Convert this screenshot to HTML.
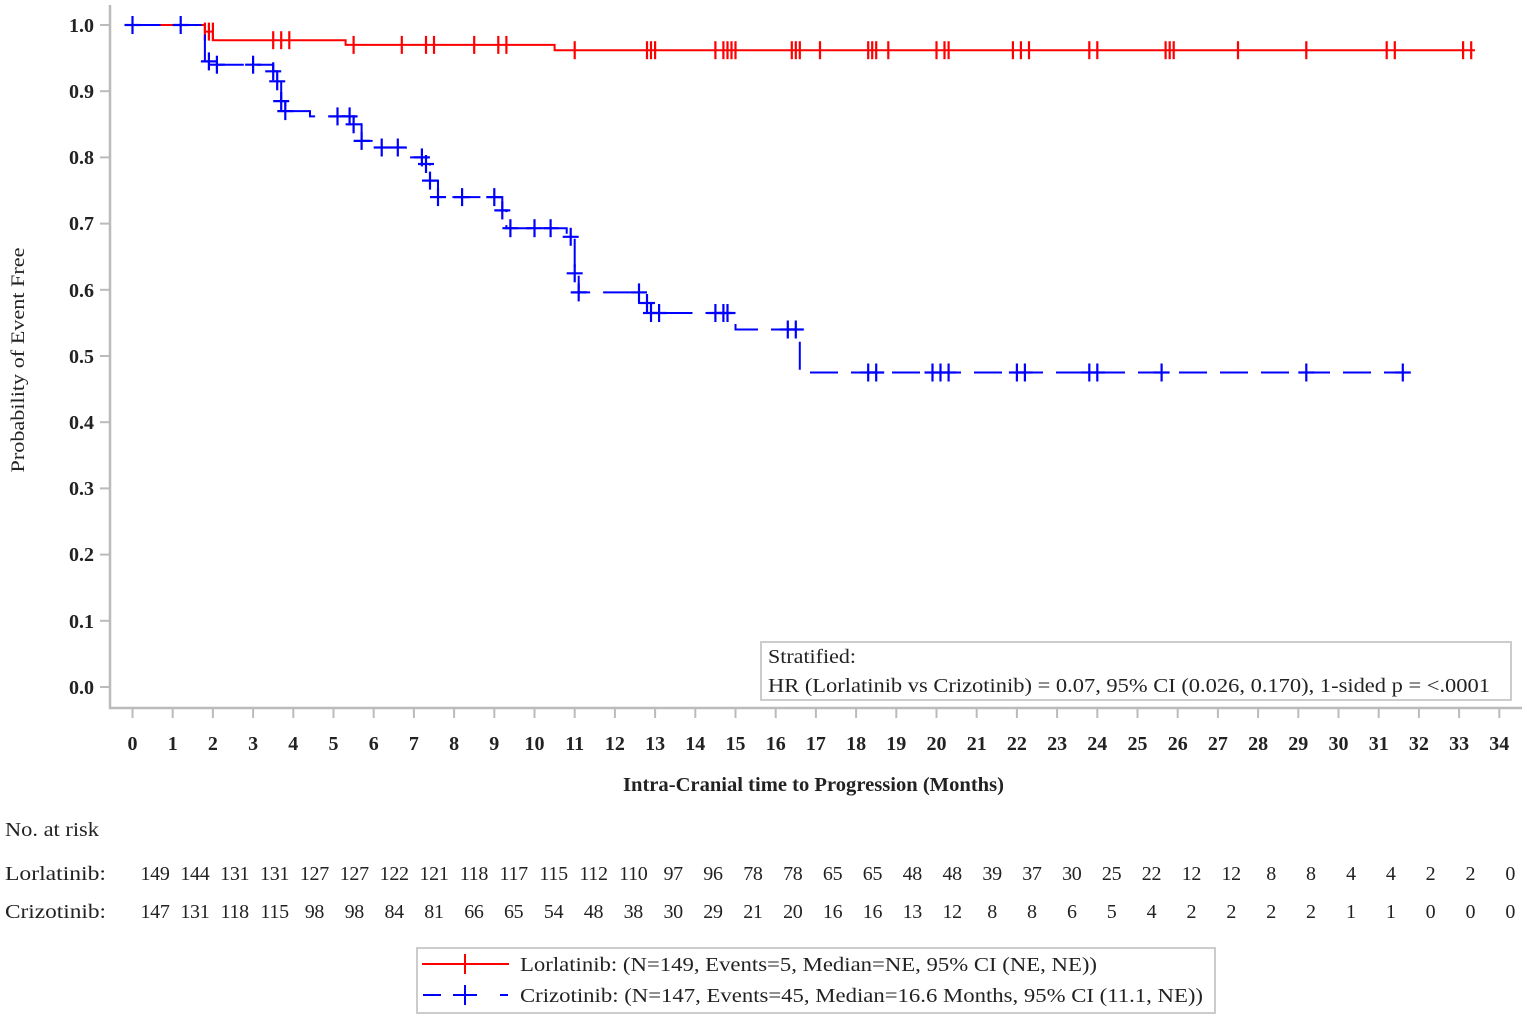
<!DOCTYPE html>
<html><head><meta charset="utf-8"><style>
html,body{margin:0;padding:0;background:#fff;}
svg{display:block;font-family:"Liberation Serif",serif;}
</style></head><body>
<svg width="1530" height="1019" viewBox="0 0 1530 1019" xmlns="http://www.w3.org/2000/svg">
<defs>
<g id="bp"><line x1="-8" y1="0" x2="8" y2="0" stroke="#0000ff" stroke-width="2.2"/><line x1="0" y1="-9" x2="0" y2="9" stroke="#0000ff" stroke-width="2.2"/></g>
<g id="rp"><line x1="0" y1="-9" x2="0" y2="9" stroke="#ff0000" stroke-width="2.2"/></g>
</defs>
<g stroke="#bbb" stroke-width="2.5" fill="none">
<line x1="110" y1="5" x2="110" y2="709"/>
<line x1="109" y1="708" x2="1522" y2="708"/>
</g>
<g stroke="#bbb" stroke-width="2">
<line x1="100" y1="25" x2="110" y2="25"/><line x1="100" y1="91.2" x2="110" y2="91.2"/><line x1="100" y1="157.4" x2="110" y2="157.4"/><line x1="100" y1="223.6" x2="110" y2="223.6"/><line x1="100" y1="289.8" x2="110" y2="289.8"/><line x1="100" y1="356" x2="110" y2="356"/><line x1="100" y1="422.2" x2="110" y2="422.2"/><line x1="100" y1="488.4" x2="110" y2="488.4"/><line x1="100" y1="554.6" x2="110" y2="554.6"/><line x1="100" y1="620.8" x2="110" y2="620.8"/><line x1="100" y1="687" x2="110" y2="687"/>
</g>
<g font-size="20" font-weight="bold" text-anchor="end" fill="#222">
<text x="94" y="32">1.0</text><text x="94" y="98">0.9</text><text x="94" y="164">0.8</text><text x="94" y="230">0.7</text><text x="94" y="297">0.6</text><text x="94" y="363">0.5</text><text x="94" y="429">0.4</text><text x="94" y="495">0.3</text><text x="94" y="561">0.2</text><text x="94" y="628">0.1</text><text x="94" y="694">0.0</text>
</g>
<text transform="translate(24,360) rotate(-90)" font-size="19" text-anchor="middle" fill="#222" textLength="225" lengthAdjust="spacingAndGlyphs">Probability of Event Free</text>
<g stroke="#bbb" stroke-width="2">
<line x1="132.5" y1="708" x2="132.5" y2="718"/><line x1="172.7" y1="708" x2="172.7" y2="718"/><line x1="212.9" y1="708" x2="212.9" y2="718"/><line x1="253.1" y1="708" x2="253.1" y2="718"/><line x1="293.3" y1="708" x2="293.3" y2="718"/><line x1="333.5" y1="708" x2="333.5" y2="718"/><line x1="373.7" y1="708" x2="373.7" y2="718"/><line x1="413.9" y1="708" x2="413.9" y2="718"/><line x1="454.1" y1="708" x2="454.1" y2="718"/><line x1="494.3" y1="708" x2="494.3" y2="718"/><line x1="534.5" y1="708" x2="534.5" y2="718"/><line x1="574.7" y1="708" x2="574.7" y2="718"/><line x1="614.9" y1="708" x2="614.9" y2="718"/><line x1="655.1" y1="708" x2="655.1" y2="718"/><line x1="695.3" y1="708" x2="695.3" y2="718"/><line x1="735.5" y1="708" x2="735.5" y2="718"/><line x1="775.7" y1="708" x2="775.7" y2="718"/><line x1="815.9" y1="708" x2="815.9" y2="718"/><line x1="856.1" y1="708" x2="856.1" y2="718"/><line x1="896.3" y1="708" x2="896.3" y2="718"/><line x1="936.5" y1="708" x2="936.5" y2="718"/><line x1="976.7" y1="708" x2="976.7" y2="718"/><line x1="1016.9" y1="708" x2="1016.9" y2="718"/><line x1="1057.1" y1="708" x2="1057.1" y2="718"/><line x1="1097.3" y1="708" x2="1097.3" y2="718"/><line x1="1137.5" y1="708" x2="1137.5" y2="718"/><line x1="1177.7" y1="708" x2="1177.7" y2="718"/><line x1="1217.9" y1="708" x2="1217.9" y2="718"/><line x1="1258.1" y1="708" x2="1258.1" y2="718"/><line x1="1298.3" y1="708" x2="1298.3" y2="718"/><line x1="1338.5" y1="708" x2="1338.5" y2="718"/><line x1="1378.7" y1="708" x2="1378.7" y2="718"/><line x1="1418.9" y1="708" x2="1418.9" y2="718"/><line x1="1459.1" y1="708" x2="1459.1" y2="718"/><line x1="1499.3" y1="708" x2="1499.3" y2="718"/>
</g>
<g font-size="20" font-weight="bold" text-anchor="middle" fill="#222">
<text x="132.5" y="750">0</text><text x="172.7" y="750">1</text><text x="212.9" y="750">2</text><text x="253.1" y="750">3</text><text x="293.3" y="750">4</text><text x="333.5" y="750">5</text><text x="373.7" y="750">6</text><text x="413.9" y="750">7</text><text x="454.1" y="750">8</text><text x="494.3" y="750">9</text><text x="534.5" y="750">10</text><text x="574.7" y="750">11</text><text x="614.9" y="750">12</text><text x="655.1" y="750">13</text><text x="695.3" y="750">14</text><text x="735.5" y="750">15</text><text x="775.7" y="750">16</text><text x="815.9" y="750">17</text><text x="856.1" y="750">18</text><text x="896.3" y="750">19</text><text x="936.5" y="750">20</text><text x="976.7" y="750">21</text><text x="1016.9" y="750">22</text><text x="1057.1" y="750">23</text><text x="1097.3" y="750">24</text><text x="1137.5" y="750">25</text><text x="1177.7" y="750">26</text><text x="1217.9" y="750">27</text><text x="1258.1" y="750">28</text><text x="1298.3" y="750">29</text><text x="1338.5" y="750">30</text><text x="1378.7" y="750">31</text><text x="1418.9" y="750">32</text><text x="1459.1" y="750">33</text><text x="1499.3" y="750">34</text>
</g>
<text x="623" y="791" font-size="20" font-weight="bold" fill="#222" textLength="381" lengthAdjust="spacingAndGlyphs">Intra-Cranial time to Progression (Months)</text>

<path d="M132.5,25 H204.9 V31.6 H212.9 V40.2 H345.6 V44.9 H554.6 V50.2 H1475" fill="none" stroke="#ff0000" stroke-width="2"/>
<g>
<use href="#rp" x="204.9" y="31.6"/><use href="#rp" x="208.9" y="31.6"/><use href="#rp" x="212.9" y="31.6"/>
<use href="#rp" x="273.2" y="40.2"/><use href="#rp" x="281.2" y="40.2"/><use href="#rp" x="289.3" y="40.2"/>
<use href="#rp" x="353.6" y="44.9"/><use href="#rp" x="401.8" y="44.9"/><use href="#rp" x="426" y="44.9"/><use href="#rp" x="434" y="44.9"/><use href="#rp" x="474.2" y="44.9"/><use href="#rp" x="498.3" y="44.9"/><use href="#rp" x="506.4" y="44.9"/>
<use href="#rp" x="574.7" y="50.2"/><use href="#rp" x="647" y="50.2"/><use href="#rp" x="651" y="50.2"/><use href="#rp" x="655.1" y="50.2"/><use href="#rp" x="715.4" y="50.2"/><use href="#rp" x="723.4" y="50.2"/><use href="#rp" x="727.5" y="50.2"/><use href="#rp" x="731.5" y="50.2"/><use href="#rp" x="735.5" y="50.2"/><use href="#rp" x="791.8" y="50.2"/><use href="#rp" x="795.8" y="50.2"/><use href="#rp" x="799.8" y="50.2"/><use href="#rp" x="820" y="50.2"/><use href="#rp" x="868.2" y="50.2"/><use href="#rp" x="872.2" y="50.2"/><use href="#rp" x="876.2" y="50.2"/><use href="#rp" x="888.3" y="50.2"/><use href="#rp" x="936.5" y="50.2"/><use href="#rp" x="944.5" y="50.2"/><use href="#rp" x="948.6" y="50.2"/><use href="#rp" x="1012.9" y="50.2"/><use href="#rp" x="1020.9" y="50.2"/><use href="#rp" x="1029" y="50.2"/><use href="#rp" x="1089.3" y="50.2"/><use href="#rp" x="1097.3" y="50.2"/><use href="#rp" x="1165.6" y="50.2"/><use href="#rp" x="1169.7" y="50.2"/><use href="#rp" x="1173.7" y="50.2"/><use href="#rp" x="1238" y="50.2"/><use href="#rp" x="1306.3" y="50.2"/><use href="#rp" x="1386.7" y="50.2"/><use href="#rp" x="1394.8" y="50.2"/><use href="#rp" x="1463.1" y="50.2"/><use href="#rp" x="1471.2" y="50.2"/>
</g>

<path d="M132.5,25 H204.9 V61.4 H212.9 V64.7 H273.2 V71.3 H277.2 V81.3 H281.2 V101.1 H285.3 V111.1 H310 V116.4 H353.6 V124.3 H361.6 V140.9 H375 V147.5 H405.9 V157.4 H426 V164 H430 V180.6 H438 V197.1 H502.3 V210.4 H506.4 V228.2 H566.7 V236.8 H574.7 V273.3 H578.7 V292.4 H639 V303 H647 V313 H735.5 V329.5 H799.8 V372.5 H1402.8" fill="none" stroke="#0000ff" stroke-width="2" stroke-dasharray="28,13"/>
<g>
<use href="#bp" x="132.5" y="25"/><use href="#bp" x="180.7" y="25"/><use href="#bp" x="208.9" y="61.4"/><use href="#bp" x="216.9" y="64.7"/><use href="#bp" x="253.1" y="64.7"/><use href="#bp" x="273.2" y="71.3"/><use href="#bp" x="277.2" y="81.3"/><use href="#bp" x="281.2" y="101.1"/><use href="#bp" x="285.3" y="111.1"/><use href="#bp" x="337.5" y="116.4"/><use href="#bp" x="349.6" y="116.4"/><use href="#bp" x="353.6" y="124.3"/><use href="#bp" x="361.6" y="140.9"/><use href="#bp" x="381.7" y="147.5"/><use href="#bp" x="397.8" y="147.5"/><use href="#bp" x="421.9" y="157.4"/><use href="#bp" x="426" y="164"/><use href="#bp" x="430" y="180.6"/><use href="#bp" x="438" y="197.1"/><use href="#bp" x="462.1" y="197.1"/><use href="#bp" x="494.3" y="197.1"/><use href="#bp" x="502.3" y="210.4"/><use href="#bp" x="510.4" y="228.2"/><use href="#bp" x="534.5" y="228.2"/><use href="#bp" x="550.6" y="228.2"/><use href="#bp" x="570.7" y="236.8"/><use href="#bp" x="574.7" y="273.3"/><use href="#bp" x="578.7" y="292.4"/><use href="#bp" x="639" y="292.4"/><use href="#bp" x="647" y="303"/><use href="#bp" x="651" y="313"/><use href="#bp" x="659.1" y="313"/><use href="#bp" x="715.4" y="313"/><use href="#bp" x="723.4" y="313"/><use href="#bp" x="727.5" y="313"/><use href="#bp" x="787.8" y="329.5"/><use href="#bp" x="795.8" y="329.5"/><use href="#bp" x="868.2" y="372.5"/><use href="#bp" x="876.2" y="372.5"/><use href="#bp" x="932.5" y="372.5"/><use href="#bp" x="940.5" y="372.5"/><use href="#bp" x="948.6" y="372.5"/><use href="#bp" x="1016.9" y="372.5"/><use href="#bp" x="1024.9" y="372.5"/><use href="#bp" x="1089.3" y="372.5"/><use href="#bp" x="1097.3" y="372.5"/><use href="#bp" x="1161.6" y="372.5"/><use href="#bp" x="1306.3" y="372.5"/><use href="#bp" x="1402.8" y="372.5"/>
</g>

<rect x="761" y="642" width="750" height="58" fill="#fff" stroke="#ccc" stroke-width="2"/>
<g font-size="20" fill="#222">
<text x="768" y="663" textLength="88" lengthAdjust="spacingAndGlyphs">Stratified:</text>
<text x="768" y="692" textLength="722" lengthAdjust="spacingAndGlyphs">HR (Lorlatinib vs Crizotinib) = 0.07, 95% CI (0.026, 0.170), 1-sided p = &lt;.0001</text>
</g>

<g font-size="20" fill="#222">
<text x="5" y="836" textLength="94" lengthAdjust="spacingAndGlyphs">No. at risk</text>
<text x="5" y="880" textLength="101" lengthAdjust="spacingAndGlyphs">Lorlatinib:</text>
<text x="5" y="918" textLength="101" lengthAdjust="spacingAndGlyphs">Crizotinib:</text>
</g>
<g font-size="20" fill="#222" text-anchor="middle" letter-spacing="-0.3">
<text y="880"><tspan x="155">149</tspan><tspan x="194.9">144</tspan><tspan x="234.7">131</tspan><tspan x="274.6">131</tspan><tspan x="314.4">127</tspan><tspan x="354.3">127</tspan><tspan x="394.2">122</tspan><tspan x="434">121</tspan><tspan x="473.9">118</tspan><tspan x="513.7">117</tspan><tspan x="553.6">115</tspan><tspan x="593.5">112</tspan><tspan x="633.3">110</tspan><tspan x="673.2">97</tspan><tspan x="713">96</tspan><tspan x="752.9">78</tspan><tspan x="792.8">78</tspan><tspan x="832.6">65</tspan><tspan x="872.5">65</tspan><tspan x="912.3">48</tspan><tspan x="952.2">48</tspan><tspan x="992.1">39</tspan><tspan x="1031.9">37</tspan><tspan x="1071.8">30</tspan><tspan x="1111.6">25</tspan><tspan x="1151.5">22</tspan><tspan x="1191.4">12</tspan><tspan x="1231.2">12</tspan><tspan x="1271.1">8</tspan><tspan x="1310.9">8</tspan><tspan x="1350.8">4</tspan><tspan x="1390.7">4</tspan><tspan x="1430.5">2</tspan><tspan x="1470.4">2</tspan><tspan x="1510.2">0</tspan></text>
<text y="918"><tspan x="155">147</tspan><tspan x="194.9">131</tspan><tspan x="234.7">118</tspan><tspan x="274.6">115</tspan><tspan x="314.4">98</tspan><tspan x="354.3">98</tspan><tspan x="394.2">84</tspan><tspan x="434">81</tspan><tspan x="473.9">66</tspan><tspan x="513.7">65</tspan><tspan x="553.6">54</tspan><tspan x="593.5">48</tspan><tspan x="633.3">38</tspan><tspan x="673.2">30</tspan><tspan x="713">29</tspan><tspan x="752.9">21</tspan><tspan x="792.8">20</tspan><tspan x="832.6">16</tspan><tspan x="872.5">16</tspan><tspan x="912.3">13</tspan><tspan x="952.2">12</tspan><tspan x="992.1">8</tspan><tspan x="1031.9">8</tspan><tspan x="1071.8">6</tspan><tspan x="1111.6">5</tspan><tspan x="1151.5">4</tspan><tspan x="1191.4">2</tspan><tspan x="1231.2">2</tspan><tspan x="1271.1">2</tspan><tspan x="1310.9">2</tspan><tspan x="1350.8">1</tspan><tspan x="1390.7">1</tspan><tspan x="1430.5">0</tspan><tspan x="1470.4">0</tspan><tspan x="1510.2">0</tspan></text>
</g>

<rect x="417" y="948" width="798" height="65" fill="#fff" stroke="#ccc" stroke-width="2"/>
<line x1="422" y1="964" x2="509" y2="964" stroke="#ff0000" stroke-width="2"/>
<line x1="465" y1="954" x2="465" y2="974" stroke="#ff0000" stroke-width="2"/>
<line x1="423" y1="995" x2="441" y2="995" stroke="#0000ff" stroke-width="2"/>
<line x1="453" y1="995" x2="477" y2="995" stroke="#0000ff" stroke-width="2"/>
<line x1="465" y1="985" x2="465" y2="1005" stroke="#0000ff" stroke-width="2"/>
<line x1="500" y1="995" x2="508" y2="995" stroke="#0000ff" stroke-width="2"/>
<g font-size="20" fill="#222">
<text x="520" y="971" textLength="577" lengthAdjust="spacingAndGlyphs">Lorlatinib:  (N=149, Events=5, Median=NE, 95% CI (NE, NE))</text>
<text x="520" y="1002" textLength="683" lengthAdjust="spacingAndGlyphs">Crizotinib:  (N=147, Events=45, Median=16.6 Months, 95% CI (11.1, NE))</text>
</g>
</svg>
</body></html>
